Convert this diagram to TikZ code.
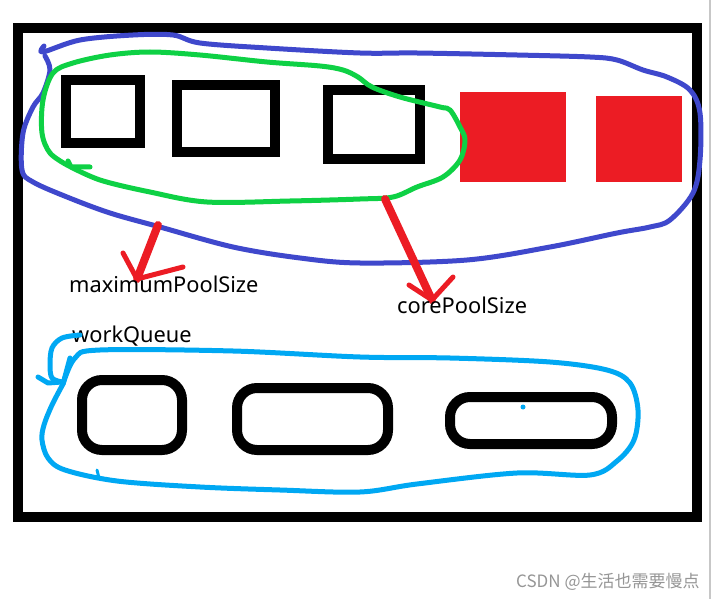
\documentclass[tikz,border=0pt]{standalone}
\usepackage{fontspec}
\setmainfont{Noto Sans}
\newfontfamily\cjk{Noto Sans CJK SC}
\definecolor{pblue}{RGB}{63,72,204}
\definecolor{pgreen}{RGB}{14,209,69}
\definecolor{pred}{RGB}{236,28,36}
\definecolor{plblue}{RGB}{0,168,243}
\definecolor{wmgray}{RGB}{150,150,150}
\begin{document}
\begin{tikzpicture}[x=1pt,y=-1pt,
  sqbox/.style={draw=black,line width=10pt,inner sep=0pt,outer sep=0pt},
  rbox/.style={draw=black,line width=10pt,inner sep=0pt,outer sep=0pt,rounded corners=20pt},
  redsq/.style={fill=pred,inner sep=0pt,outer sep=0pt},
  hand/.style={line width=5pt,line cap=round,line join=round},
  shaft/.style={pred,line width=8pt,line cap=round},
  headline/.style={pred,line width=5pt,line cap=round,line join=round},
  lbl/.style={font=\fontsize{21.8}{26}\selectfont,inner sep=0pt,anchor=base west}]
\useasboundingbox (0,0) rectangle (713,599);
\fill[white] (0,0) rectangle (713,599);
\draw[black!22,line width=2.5pt] (710,0) -- (710,599);
% frame
\node[sqbox,minimum width=679pt,minimum height=489pt] (frame) at (357.5,272.5) {};
% top boxes
\node[sqbox,minimum width=74pt,minimum height=63pt] (b1) at (103,111.5) {};
\node[sqbox,minimum width=98pt,minimum height=67pt] (b2) at (226,118.5) {};
\node[sqbox,minimum width=92pt,minimum height=69pt] (b3) at (374,124.5) {};
\node[redsq,minimum width=106pt,minimum height=90pt] (r1) at (513,137) {};
\node[redsq,minimum width=86pt,minimum height=86pt] (r2) at (639,139) {};
% blue loop
\draw[pblue,hand] plot[smooth,tension=0.55] coordinates {(44,46) (43,52) (80,40) (133,35) (173,35) (200,43) (267,48) (360,53) (417,53) (517,55) (590,57) (617,60) (643,70) (667,77) (690,90) (700,113) (700,160) (693,193) (670,220) (650,227) (617,233) (550,247) (467,260) (360,263) (300,258) (233,247) (160,227) (110,213) (67,197) (33,182) (22,170) (23,133) (33,107) (43,93) (50,70) (45,56)};
% green loop
\draw[pgreen,hand] plot[smooth,tension=0.55] coordinates {(67,165) (100,180) (150,192) (207,202) (290,201) (360,199) (393,197) (417,187) (443,177) (460,160) (465,140) (460,127) (450,110) (440,107) (400,97) (372,87) (358,77) (343,70) (320,66) (267,62) (200,55) (150,52) (110,55) (73,63) (53,73) (43,100) (42,133) (50,153) (67,165)};
\draw[pgreen,hand] (68,161) -- (71,167) -- (90,167);
% red arrows
\coordinate (a1s) at (158,225);
\coordinate (a1t) at (137,279);
\coordinate (a1l) at (123,253);
\coordinate (a1r) at (183,267);
\draw[shaft] (a1s) -- (a1t);
\draw[headline] (a1l) -- (a1t) -- (a1r);
\coordinate (a2s) at (385,199);
\coordinate (a2t) at (432,300);
\coordinate (a2l) at (409,285);
\coordinate (a2r) at (453,277);
\draw[shaft] (a2s) -- (a2t);
\draw[headline] (a2l) -- (a2t) -- (a2r);
% labels
\node[lbl] (maxps) at (69,292) {maximumPoolSize};
\node[lbl] (coreps) at (397,313) {corePoolSize};
\node[lbl] (wq) at (72,342) {workQueue};
% queue boxes
\node[rbox,minimum width=100pt,minimum height=70pt] (q1) at (132,415) {};
\node[rbox,minimum width=151pt,minimum height=62pt] (q2) at (312.5,419) {};
\node[rbox,minimum width=162pt,minimum height=47pt] (q3) at (531,420.5) {};
% light blue loop
\draw[plblue,hand] plot[smooth,tension=0.55] coordinates {(80,335) (62,338) (52,348) (50,365) (52,378) (62,382)};
\draw[plblue,hand] (38,377) -- (48,383) -- (62,382);
\draw[plblue,hand] (70,358) -- (63,384);
\draw[plblue,hand] plot[smooth,tension=0.55] coordinates {(63,384) (52,405) (44,425) (42,440) (48,458) (65,470) (117,481) (200,487) (280,490) (360,492) (417,484) (517,473) (590,475) (617,461) (634,440) (638,410) (630,383) (607,370) (550,362) (450,358) (360,357) (233,351) (100,350) (75,358) (63,384)};
\draw[plblue,line width=3pt,line cap=round] (97,470) -- (99,478);
\fill[plblue] (523,407) circle (2.5pt);
% watermark
\node[inner sep=0pt,anchor=base west,text=wmgray,font=\fontsize{17}{20}\selectfont\cjk] (wm) at (516,587) {CSDN @生活也需要慢点};
\end{tikzpicture}
\end{document}
